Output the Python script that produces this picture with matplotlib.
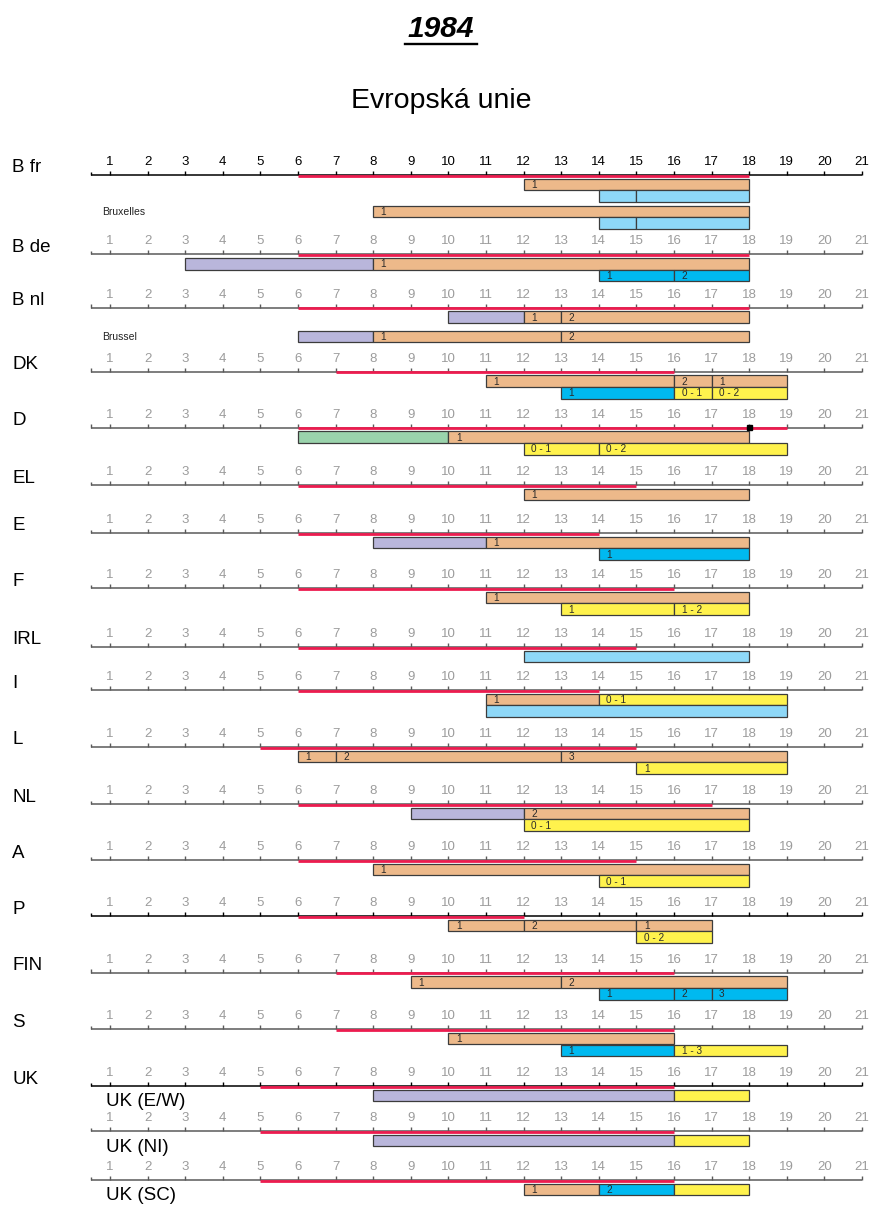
import matplotlib
matplotlib.use("Agg")
import matplotlib.pyplot as plt
from matplotlib.lines import Line2D

plt.rcParams['font.family'] = ['Liberation Sans', 'DejaVu Sans']

# ---------------- data ----------------
row_names = ["B fr", "B de", "B nl", "DK", "D", "EL", "E", "F", "IRL", "I",
             "L", "NL", "A", "P", "FIN", "S", "UK", "", ""]
sub_names = ["", "", "", "", "", "", "", "", "", "", "", "", "", "", "", "",
             "UK (E/W)", "UK (NI)", "UK (SC)"]
red_start = [6, 6, 6, 7, 6, 6, 6, 6, 6, 6, 5, 6, 6, 6, 7, 7, 5, 5, 5]
red_end = [18, 18, 18, 16, 19, 15, 14, 16, 15, 14, 15, 17, 15, 12, 16, 16, 16, 16, 16]
hours = list(range(1, 22))

# segments: (row, lane, start, end, colour key, label)
segments = [
    (0, 0, 12, 18, "o", "1"),
    (0, 1, 14, 15, "lb", ""), (0, 1, 15, 18, "lb", ""),
    (0, 3, 8, 18, "o", "1"),
    (0, 4, 14, 15, "lb", ""), (0, 4, 15, 18, "lb", ""),
    (1, 0, 3, 8, "v", ""), (1, 0, 8, 18, "o", "1"),
    (1, 1, 14, 16, "b", "1"), (1, 1, 16, 18, "b", "2"),
    (2, 0, 10, 12, "v", ""), (2, 0, 12, 13, "o", "1"), (2, 0, 13, 18, "o", "2"),
    (2, 2, 6, 8, "v", ""), (2, 2, 8, 13, "o", "1"), (2, 2, 13, 18, "o", "2"),
    (3, 0, 11, 16, "o", "1"), (3, 0, 16, 17, "o", "2"), (3, 0, 17, 19, "o", "1"),
    (3, 1, 13, 16, "b", "1"), (3, 1, 16, 17, "y", "0 - 1"), (3, 1, 17, 19, "y", "0 - 2"),
    (4, 0, 6, 10, "g", ""), (4, 0, 10, 18, "o", "1"),
    (4, 1, 12, 14, "y", "0 - 1"), (4, 1, 14, 19, "y", "0 - 2"),
    (5, 0, 12, 18, "o", "1"),
    (6, 0, 8, 11, "v", ""), (6, 0, 11, 18, "o", "1"),
    (6, 1, 14, 18, "b", "1"),
    (7, 0, 11, 18, "o", "1"),
    (7, 1, 13, 16, "y", "1"), (7, 1, 16, 18, "y", "1 - 2"),
    (8, 0, 12, 18, "lb", ""),
    (9, 0, 11, 14, "o", "1"), (9, 0, 14, 19, "y", "0 - 1"),
    (9, 1, 11, 19, "lb", ""),
    (10, 0, 6, 7, "o", "1"), (10, 0, 7, 13, "o", "2"), (10, 0, 13, 19, "o", "3"),
    (10, 1, 15, 19, "y", "1"),
    (11, 0, 9, 12, "v", ""), (11, 0, 12, 18, "o", "2"),
    (11, 1, 12, 18, "y", "0 - 1"),
    (12, 0, 8, 18, "o", "1"),
    (12, 1, 14, 18, "y", "0 - 1"),
    (13, 0, 10, 12, "o", "1"), (13, 0, 12, 15, "o", "2"), (13, 0, 15, 17, "o", "1"),
    (13, 1, 15, 17, "y", "0 - 2"),
    (14, 0, 9, 13, "o", "1"), (14, 0, 13, 19, "o", "2"),
    (14, 1, 14, 16, "b", "1"), (14, 1, 16, 17, "b", "2"), (14, 1, 17, 19, "b", "3"),
    (15, 0, 10, 16, "o", "1"),
    (15, 1, 13, 16, "b", "1"), (15, 1, 16, 19, "y", "1 - 3"),
    (16, 0, 8, 16, "v", ""), (16, 0, 16, 18, "y", ""),
    (17, 0, 8, 16, "v", ""), (17, 0, 16, 18, "y", ""),
    (18, 0, 12, 14, "o", "1"), (18, 0, 14, 16, "b", "2"), (18, 0, 16, 18, "y", ""),
]
city_labels = [(0, 3, "Bruxelles"), (2, 2, "Brussel")]
marker_row, marker_hour = 4, 18

# ---------------- layout / style ----------------
W, H = 872, 1206
axis_y = [175, 254.3, 307.7, 371.7, 427.7, 485, 533, 588, 647, 690,
          747, 804, 860, 916, 972.7, 1029.3, 1086, 1131, 1180]
lane_top = {0: 3.5, 1: 15.2, 2: 23.0, 3: 30.7, 4: 42.4}
bar_h = 11.7
colors = {"o": "#EDB98A", "v": "#B9B6DB", "lb": "#8ED8F8", "b": "#00B9F0",
          "y": "#FFF24D", "g": "#9AD3AC"}
red = "#EC1C4F"
black_axes = {0, 13, 16}

px1, px21 = 110.0, 862.0
step = (px21 - px1) / 20.0
x0 = 1 - px1 / step
x1 = 21 + (W - px21) / step

fig = plt.figure(figsize=(W / 100, H / 100), dpi=100)
ax = fig.add_axes([0, 0, 1, 1])
ax.set_xlim(x0, x1)
ax.set_ylim(H, 0)
ax.axis("off")


def fx(px):
    return px / W


def fy(py):
    return 1 - py / H


# titles
fig.text(fx(441), fy(29), "1984", ha="center", va="center", fontsize=21.5,
         fontweight="bold", fontstyle="italic")
fig.add_artist(Line2D([fx(405), fx(477)], [fy(43.5), fy(43.5)], color="black",
                      lw=1.7, transform=fig.transFigure))
fig.text(fx(441), fy(101), "Evropská unie", ha="center", va="center", fontsize=20.5)

for i, y in enumerate(axis_y):
    lc = "black" if i in black_axes else "#5a5a5a"
    tc = "black" if i == 0 else "#9c9c9c"
    ax.plot([0.5, 21], [y, y], color=lc, lw=1.1, solid_capstyle="butt", zorder=2)
    ax.vlines(hours, y - 4, y, color=lc, lw=1, zorder=2)
    ax.vlines([0.5], y - 3.5, y, color=lc, lw=1, zorder=2)
    for h in hours:
        ax.text(h, y - 13, str(h), ha="center", va="center", fontsize=9.5,
                color=tc, zorder=3)
    ax.plot([red_start[i], red_end[i]], [y + 0.6, y + 0.6], color=red, lw=2.0,
            solid_capstyle="butt", zorder=3)
    if row_names[i]:
        fig.text(fx(12), fy(y - 7), row_names[i], ha="left", va="center",
                 fontsize=13.5)
    if sub_names[i]:
        ax.text(x0 + 106 / step, y + 16, sub_names[i], ha="left", va="center",
                fontsize=13.5)

ax.plot([marker_hour], [axis_y[marker_row] - 0.5], marker="s", ms=3.6,
        color="black", zorder=4, linestyle="none")

for (r, lane, s, e, ck, lab) in segments:
    top = axis_y[r] + lane_top[lane]
    ax.barh(top + bar_h / 2, e - s, left=s, height=bar_h, color=colors[ck],
            edgecolor="#3c3c3c", linewidth=0.9, zorder=2)
    if lab:
        ax.text(s + 0.2, top + bar_h / 2 + 0.5, lab, ha="left", va="center",
                fontsize=7.2, color="#2a2a2a", zorder=4)

for (r, lane, lab) in city_labels:
    top = axis_y[r] + lane_top[lane]
    ax.text(x0 + 102 / step, top + bar_h / 2, lab, ha="left", va="center",
            fontsize=7.5, color="#222222")

fig.savefig("out.png", dpi=100)
